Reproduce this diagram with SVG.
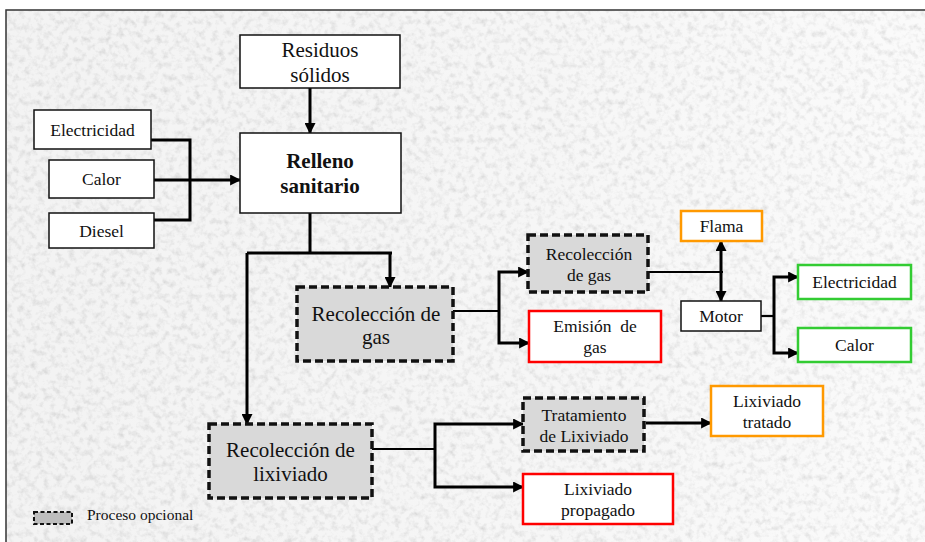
<svg xmlns="http://www.w3.org/2000/svg" width="925" height="542" viewBox="0 0 925 542">
  <style>
    text { font-family: "Liberation Serif", "Times New Roman", serif; fill: #111; text-anchor: middle; }
    .big { font-size: 21px; }
    .sm { font-size: 17.5px; }
    .note { font-size: 15.5px; text-anchor: start; }
    .box { fill: #ffffff; stroke: #111; stroke-width: 1.5; }
    .opt { fill: #d9d9d9; stroke: #111; stroke-width: 3.5; stroke-dasharray: 8 4; }
    .red { fill: #ffffff; stroke: #ff0000; stroke-width: 2.5; }
    .orange { fill: #ffffff; stroke: #ff9900; stroke-width: 2.5; }
    .green { fill: #ffffff; stroke: #33cc33; stroke-width: 2.5; }
    .wire { fill: none; stroke: #000; stroke-width: 3; }
    .thin { fill: none; stroke: #000; stroke-width: 2.2; }
    .arr { marker-end: url(#head); }
    .both { marker-start: url(#head); marker-end: url(#head); }
  </style>
  <defs>
    <marker id="head" viewBox="0 0 10 10" refX="9" refY="5" markerUnits="userSpaceOnUse" markerWidth="11" markerHeight="11" orient="auto-start-reverse">
      <path d="M0,0 L10,5 L0,10 z" fill="#000"/>
    </marker>
    <linearGradient id="paper" x1="0" y1="0" x2="1" y2="0">
      <stop offset="0" stop-color="#e6e6e6"/>
      <stop offset="0.6" stop-color="#ededed"/>
      <stop offset="1" stop-color="#f5f5f5"/>
    </linearGradient>
    <filter id="grain" x="0" y="0" width="100%" height="100%">
      <feTurbulence type="fractalNoise" baseFrequency="0.16" numOctaves="3" seed="7" result="n"/>
      <feColorMatrix in="n" type="matrix" values="0.9 0 0 0 0.5  0.9 0 0 0 0.5  0.9 0 0 0 0.5  0 0 0 0 0.5"/>
    </filter>
  </defs>

  <!-- paper -->
  <rect x="0" y="0" width="925" height="542" fill="#ffffff"/>
  <rect x="6" y="10" width="919" height="532" fill="url(#paper)"/>
  <rect x="6" y="10" width="919" height="532" filter="url(#grain)"/>
  <path d="M6,542 L6,10 L925,10" fill="none" stroke="#333" stroke-width="1.5"/>

  <!-- connectors -->
  <g id="connectors">
    <line class="wire arr" x1="310" y1="88" x2="310" y2="133"/>
    <polyline class="wire" points="148,140 190,140 190,220 154,220"/>
    <line class="wire arr" x1="154" y1="180" x2="240" y2="180"/>
    <line class="wire" x1="310" y1="213" x2="310" y2="253"/>
    <line class="wire" x1="247" y1="253" x2="392" y2="253"/>
    <polyline class="wire arr" points="390,253 390,287"/>
    <polyline class="wire arr" points="247,253 247,424"/>
    <line class="thin" x1="453" y1="311" x2="499" y2="311"/>
    <polyline class="wire both" points="528,272 499,272 499,343 529,343"/>
    <line class="thin" x1="648" y1="272" x2="723" y2="272"/>
    <line class="wire both" x1="721" y1="241" x2="721" y2="301"/>
    <line class="thin" x1="761" y1="316" x2="774" y2="316"/>
    <polyline class="wire both" points="798,277 774,277 774,353 798,353"/>
    <line class="thin" x1="372" y1="449" x2="435" y2="449"/>
    <polyline class="wire both" points="523,424 435,424 435,487 523,487"/>
    <line class="wire arr" x1="646" y1="423" x2="711" y2="423"/>
  </g>

  <g id="residuos">
    <rect class="box" x="240" y="35" width="160" height="53"/>
    <text class="big" x="320" y="57">Residuos</text>
    <text class="big" x="320" y="82">sólidos</text>
  </g>
  <g id="relleno">
    <rect class="box" x="240" y="133" width="161" height="80"/>
    <text class="big" x="320" y="168" font-weight="bold">Relleno</text>
    <text class="big" x="320" y="193" font-weight="bold">sanitario</text>
  </g>
  <g id="in-electricidad">
    <rect class="box" x="34" y="110" width="117" height="39"/>
    <text class="sm" x="92.5" y="136">Electricidad</text>
  </g>
  <g id="in-calor">
    <rect class="box" x="49" y="160" width="105" height="38"/>
    <text class="sm" x="101.5" y="185">Calor</text>
  </g>
  <g id="in-diesel">
    <rect class="box" x="49" y="213" width="105" height="35"/>
    <text class="sm" x="101.5" y="237">Diesel</text>
  </g>
  <g id="recoleccion-gas">
    <rect class="opt" x="297" y="287" width="156" height="74"/>
    <text class="big" x="376" y="321">Recolección de</text>
    <text class="big" x="376" y="344">gas</text>
  </g>
  <g id="recoleccion-gas-2">
    <rect class="opt" x="528" y="235" width="120" height="57"/>
    <text class="sm" x="589" y="260">Recolección</text>
    <text class="sm" x="589" y="281">de gas</text>
  </g>
  <g id="emision-gas">
    <rect class="red" x="529" y="311" width="132" height="51"/>
    <text class="sm" x="595" y="332" xml:space="preserve">Emisión  de</text>
    <text class="sm" x="595" y="353">gas</text>
  </g>
  <g id="flama">
    <rect class="orange" x="681" y="211" width="81" height="30"/>
    <text class="sm" x="721.5" y="232">Flama</text>
  </g>
  <g id="motor">
    <rect class="box" x="681" y="301" width="80" height="30"/>
    <text class="sm" x="721" y="322">Motor</text>
  </g>
  <g id="out-electricidad">
    <rect class="green" x="798" y="265" width="113" height="34"/>
    <text class="sm" x="854.5" y="288">Electricidad</text>
  </g>
  <g id="out-calor">
    <rect class="green" x="798" y="328" width="113" height="34"/>
    <text class="sm" x="854.5" y="351">Calor</text>
  </g>
  <g id="recoleccion-lixiviado">
    <rect class="opt" x="209" y="424" width="163" height="74"/>
    <text class="big" x="290.5" y="457">Recolección de</text>
    <text class="big" x="290.5" y="481">lixiviado</text>
  </g>
  <g id="tratamiento">
    <rect class="opt" x="523" y="398" width="121" height="53"/>
    <text class="sm" x="584" y="421">Tratamiento</text>
    <text class="sm" x="584" y="442">de Lixiviado</text>
  </g>
  <g id="lixiviado-propagado">
    <rect class="red" x="523" y="474" width="150" height="50"/>
    <text class="sm" x="598" y="495">Lixiviado</text>
    <text class="sm" x="598" y="516">propagado</text>
  </g>
  <g id="lixiviado-tratado">
    <rect class="orange" x="711" y="386" width="112" height="50"/>
    <text class="sm" x="767" y="407">Lixiviado</text>
    <text class="sm" x="767" y="428">tratado</text>
  </g>

  <g id="legend">
    <rect x="34" y="512" width="38" height="12" fill="#bdbdbd" stroke="#111" stroke-width="2" stroke-dasharray="4 2.5"/>
    <text class="note" x="87" y="520">Proceso opcional</text>
  </g>
</svg>
